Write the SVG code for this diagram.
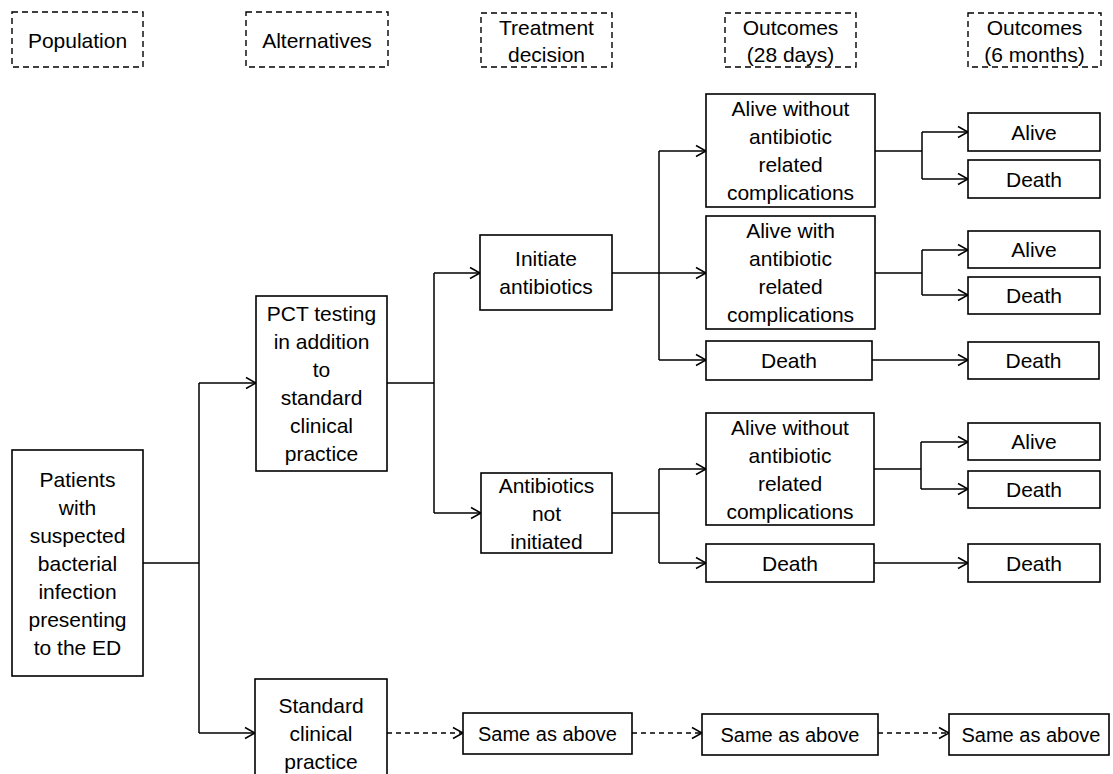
<svg xmlns="http://www.w3.org/2000/svg" width="1113" height="774" viewBox="0 0 1113 774">
<style>
.box{fill:#fff;stroke:#000;stroke-width:1.6}
.hdr{fill:#fff;stroke:#000;stroke-width:1.4;stroke-dasharray:6 4}
text{font-family:"Liberation Sans",Arial,sans-serif;font-size:21px;fill:#000;text-anchor:middle;dominant-baseline:central}
.sm{font-size:20px}
.ln{fill:none;stroke:#000;stroke-width:1.5}
.arr{fill:none;stroke:#000;stroke-width:1.5;marker-end:url(#ah)}
.dash{fill:none;stroke:#000;stroke-width:1.5;stroke-dasharray:5 4;marker-end:url(#ah)}
</style>
<defs>
<marker id="ah" markerUnits="userSpaceOnUse" markerWidth="14" markerHeight="14" viewBox="0 0 14 14" refX="12" refY="7" orient="auto">
<path d="M2,1.5 L12,7 L2,12.5" fill="none" stroke="#000" stroke-width="1.5"/>
</marker>
</defs>
<rect width="1113" height="774" fill="#fff"/>

<g id="connectors">
<path class="ln" d="M143,563 H199 M199,383 V733"/>
<path class="arr" d="M199,383 H256"/>
<path class="arr" d="M199,733 H255"/>
<path class="ln" d="M387,383 H434 M434,273 V513"/>
<path class="arr" d="M434,273 H480"/>
<path class="arr" d="M434,513 H481"/>
<path class="ln" d="M612,273 H659 M659,151 V360"/>
<path class="arr" d="M659,151 H706"/>
<path class="arr" d="M659,273 H706"/>
<path class="arr" d="M659,360 H706"/>
<path class="ln" d="M612,513 H659 M659,469 V563"/>
<path class="arr" d="M659,469 H706"/>
<path class="arr" d="M659,563 H706"/>
<path class="ln" d="M875,151 H922 M922,132 V179"/>
<path class="arr" d="M922,132 H968"/>
<path class="arr" d="M922,179 H968"/>
<path class="ln" d="M875,273 H922 M922,250 V295"/>
<path class="arr" d="M922,250 H968"/>
<path class="arr" d="M922,295 H968"/>
<path class="ln" d="M874,469 H921 M921,442 V489"/>
<path class="arr" d="M921,442 H968"/>
<path class="arr" d="M921,489 H968"/>
<path class="arr" d="M872,360 H968"/>
<path class="arr" d="M874,563 H968"/>
<path class="dash" d="M387,733 H463"/>
<path class="dash" d="M632,733 H702"/>
<path class="dash" d="M878,733 H949"/>
</g>

<g id="hdr-population"><rect class="hdr" x="12" y="12" width="131" height="55"/><text x="77.5" y="40">Population</text></g>
<g id="hdr-alternatives"><rect class="hdr" x="246" y="12" width="142" height="55"/><text x="317" y="40">Alternatives</text></g>
<g id="hdr-treatment"><rect class="hdr" x="481" y="13" width="131" height="54"/><text x="546.5" y="27">Treatment</text><text x="546.5" y="54">decision</text></g>
<g id="hdr-out28"><rect class="hdr" x="725" y="13" width="131" height="54"/><text x="790.5" y="27">Outcomes</text><text x="790.5" y="54">(28 days)</text></g>
<g id="hdr-out6"><rect class="hdr" x="968" y="13" width="133" height="54"/><text x="1034.5" y="27">Outcomes</text><text x="1034.5" y="54">(6 months)</text></g>

<g id="patients"><rect class="box" x="12" y="450" width="131" height="226"/>
<text x="77.5" y="479">Patients</text><text x="77.5" y="507">with</text><text x="77.5" y="535">suspected</text><text x="77.5" y="563">bacterial</text><text x="77.5" y="591">infection</text><text x="77.5" y="619">presenting</text><text x="77.5" y="647">to the ED</text></g>

<g id="pct"><rect class="box" x="256" y="296" width="131" height="175"/>
<text x="321.5" y="313.5">PCT testing</text><text x="321.5" y="341.5">in addition</text><text x="321.5" y="369.5">to</text><text x="321.5" y="397.5">standard</text><text x="321.5" y="425.5">clinical</text><text x="321.5" y="453.5">practice</text></g>

<g id="standard"><rect class="box" x="255" y="679" width="132" height="110"/>
<text x="321" y="705">Standard</text><text x="321" y="733">clinical</text><text x="321" y="761">practice</text></g>

<g id="initiate"><rect class="box" x="480" y="235" width="132" height="75"/>
<text x="546" y="258.5">Initiate</text><text x="546" y="286.5">antibiotics</text></g>

<g id="notinit"><rect class="box" x="481" y="473" width="131" height="80"/>
<text x="546.5" y="485">Antibiotics</text><text x="546.5" y="513">not</text><text x="546.5" y="541">initiated</text></g>

<g id="alive-wo-1"><rect class="box" x="706" y="94" width="169" height="113"/>
<text x="790.5" y="108.5">Alive without</text><text x="790.5" y="136.5">antibiotic</text><text x="790.5" y="164.5">related</text><text x="790.5" y="192.5">complications</text></g>

<g id="alive-w"><rect class="box" x="706" y="216" width="169" height="113"/>
<text x="790.5" y="230.5">Alive with</text><text x="790.5" y="258.5">antibiotic</text><text x="790.5" y="286.5">related</text><text x="790.5" y="314.5">complications</text></g>

<g id="death28-1"><rect class="box" x="706" y="341" width="166" height="39"/><text x="789" y="360.5">Death</text></g>

<g id="alive-wo-2"><rect class="box" x="706" y="413" width="168" height="112"/>
<text x="790" y="427">Alive without</text><text x="790" y="455">antibiotic</text><text x="790" y="483">related</text><text x="790" y="511">complications</text></g>

<g id="death28-2"><rect class="box" x="706" y="544" width="168" height="38"/><text x="790" y="563">Death</text></g>

<g id="alive6-1"><rect class="box" x="968" y="113" width="132" height="38"/><text x="1034" y="132">Alive</text></g>
<g id="death6-1"><rect class="box" x="968" y="160" width="132" height="38"/><text x="1034" y="179">Death</text></g>
<g id="alive6-2"><rect class="box" x="968" y="231" width="132" height="37"/><text x="1034" y="249.5">Alive</text></g>
<g id="death6-2"><rect class="box" x="968" y="277" width="132" height="37"/><text x="1034" y="295.5">Death</text></g>
<g id="death6-3"><rect class="box" x="968" y="342" width="131" height="37"/><text x="1033.5" y="360.5">Death</text></g>
<g id="alive6-3"><rect class="box" x="968" y="423" width="132" height="37"/><text x="1034" y="441.5">Alive</text></g>
<g id="death6-4"><rect class="box" x="968" y="471" width="132" height="37"/><text x="1034" y="489.5">Death</text></g>
<g id="death6-5"><rect class="box" x="968" y="544" width="132" height="38"/><text x="1034" y="563">Death</text></g>

<g id="same-1"><rect class="box" x="463" y="713" width="169" height="41"/><text class="sm" x="547.5" y="733.5">Same as above</text></g>
<g id="same-2"><rect class="box" x="702" y="714" width="176" height="41"/><text class="sm" x="790" y="734.5">Same as above</text></g>
<g id="same-3"><rect class="box" x="949" y="714" width="160" height="41"/><text class="sm" x="1031" y="734.5">Same as above</text></g>
</svg>
